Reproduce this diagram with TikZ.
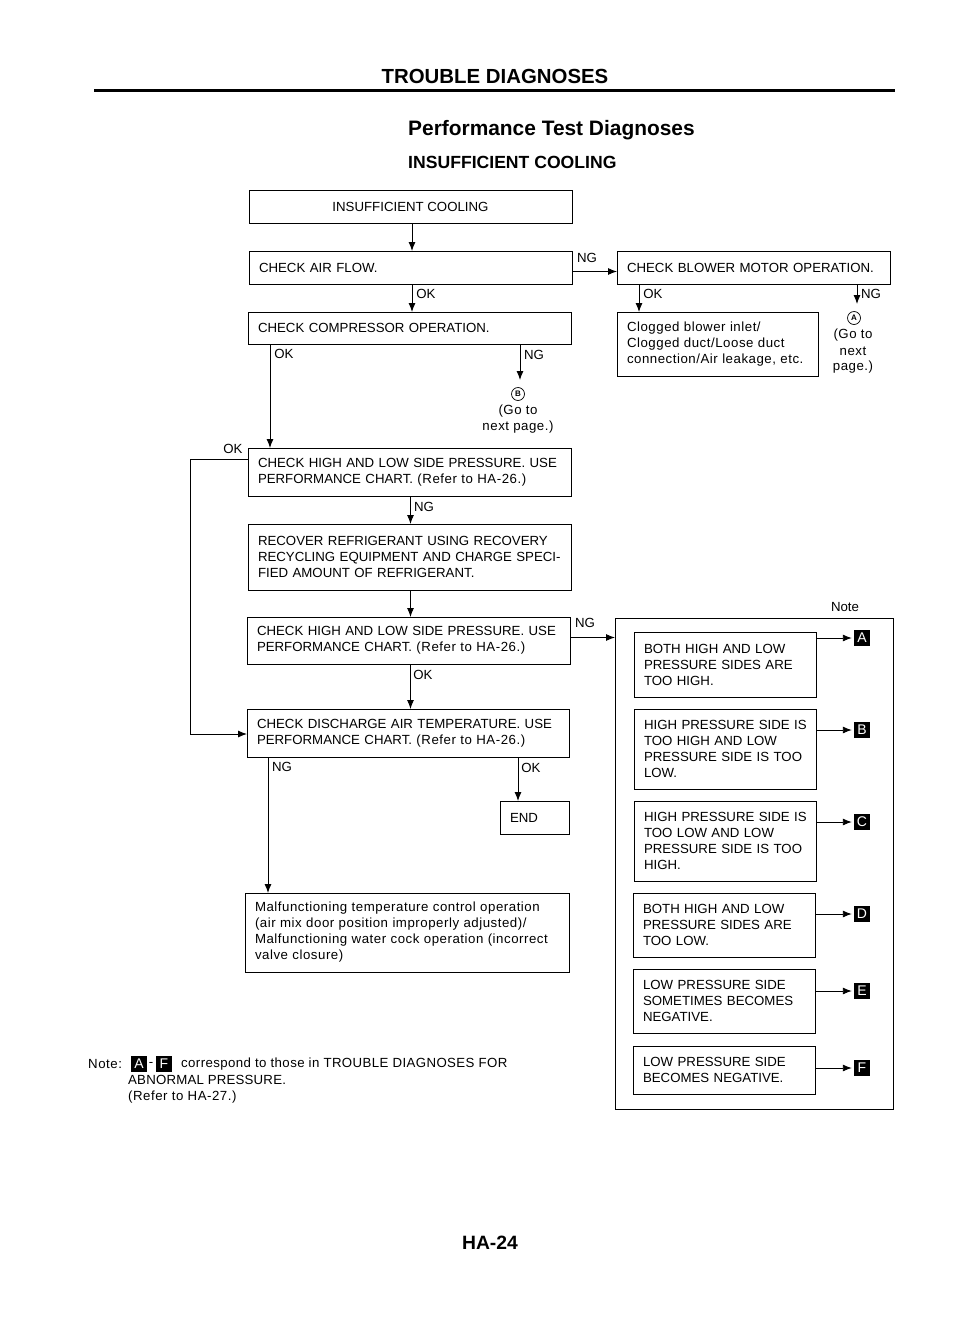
\documentclass[tikz,border=0pt]{standalone}
\usepackage{fontspec}
\setmainfont{Liberation Sans}
\usetikzlibrary{arrows.meta}
\newcommand{\boxfont}{\fontsize{13.25}{16}\selectfont}
\newcommand{\widefont}{\addfontfeature{LetterSpace=4}}
\tikzset{
  frame/.style={draw, line width=0.9pt, anchor=north west, inner ysep=0pt, outer sep=0pt, font=\boxfont},
  box/.style 2 args={frame, align=left, inner xsep=3pt, text width=#1pt-6pt, minimum height=#2pt, execute at begin node={\leftskip=7pt\relax}},
  flow/.style={line width=0.9pt, -{Latex[length=9pt,width=7pt]}},
  wire/.style={line width=0.9pt},
  lab/.style={inner sep=0pt, font=\boxfont},
  tag/.style={fill=black, text=white, inner sep=0pt, minimum size=16pt, font=\fontsize{14}{14}\selectfont},
  ring/.style={draw, circle, line width=0.7pt, inner sep=0pt, minimum size=13pt, font=\fontsize{8}{8}\selectfont\bfseries},
  head/.style={inner sep=0pt, font=\fontsize{#1}{#1}\selectfont\bfseries},
}
\begin{document}
\begin{tikzpicture}[x=1pt,y=-1pt]
\useasboundingbox (0,0) rectangle (960,1325);

\node [head=20.4] (title) at (495,76) {TROUBLE DIAGNOSES};
\node [head=20.9, anchor=west] (perf) at (408,130) {Performance Test Diagnoses};
\node [head=17.6, anchor=west] (sub) at (408,162) {INSUFFICIENT COOLING};
\coordinate (ruleL) at (94,90);
\coordinate (ruleR) at (895,90);
\draw [line width=3pt] (ruleL) -- (ruleR);

\node [frame, minimum width=323pt, minimum height=33pt] (intro) at (249,190) {INSUFFICIENT COOLING};
\node [box={323}{33}] (air) at (249,251) {CHECK AIR FLOW.};
\node [box={323}{32}] (comp) at (248,312) {CHECK COMPRESSOR OPERATION.};
\node [box={323}{48}] (hlpa) at (248,448) {CHECK HIGH AND LOW SIDE PRESSURE. USE\\PERFORMANCE CHART. {\widefont (Refer to HA-26.)}};
\node [box={323}{66}] (recover) at (248,524) {RECOVER REFRIGERANT USING RECOVERY\\RECYCLING EQUIPMENT AND CHARGE SPECI-\\FIED AMOUNT OF REFRIGERANT.};
\node [box={323}{47}] (hlpb) at (247,617) {CHECK HIGH AND LOW SIDE PRESSURE. USE\\PERFORMANCE CHART. {\widefont (Refer to HA-26.)}};
\node [box={322}{48}] (disch) at (247,709) {CHECK DISCHARGE AIR TEMPERATURE. USE\\PERFORMANCE CHART. {\widefont (Refer to HA-26.)}};
\node [box={69}{33}] (end) at (500,801) {END};
\node [box={324}{79}] (malf) at (245,893) {\widefont Malfunctioning temperature control operation\\(air mix door position improperly adjusted)/\\Malfunctioning water cock operation (incorrect\\valve closure)};

\node [box={273}{33}] (blower) at (617,251) {CHECK BLOWER MOTOR OPERATION.};
\node [box={201}{64}] (clog) at (617,312) {\widefont Clogged blower inlet/\\Clogged duct/Loose duct\\connection/Air leakage, etc.};

\node [frame, inner sep=0pt, minimum width=278pt, minimum height=491pt] (note) at (615,618) {};
\node [box={182}{65}] (casea) at (634,632) {BOTH HIGH AND LOW\\PRESSURE SIDES ARE\\TOO HIGH.};
\node [box={182}{80}] (caseb) at (634,709) {HIGH PRESSURE SIDE IS\\TOO HIGH AND LOW\\PRESSURE SIDE IS TOO\\LOW.};
\node [box={182}{80}] (casec) at (634,801) {HIGH PRESSURE SIDE IS\\TOO LOW AND LOW\\PRESSURE SIDE IS TOO\\HIGH.};
\node [box={182}{64}] (cased) at (633,893) {BOTH HIGH AND LOW\\PRESSURE SIDES ARE\\TOO LOW.};
\node [box={182}{64}] (casee) at (633,969) {LOW PRESSURE SIDE\\SOMETIMES BECOMES\\NEGATIVE.};
\node [box={182}{48}] (casef) at (633,1046) {LOW PRESSURE SIDE\\BECOMES NEGATIVE.};

\node [tag] (taga) at (862,638) {A};
\node [tag] (tagb) at (862,730) {B};
\node [tag] (tagc) at (862,822) {C};
\node [tag] (tagd) at (862,914) {D};
\node [tag] (tage) at (862,991) {E};
\node [tag] (tagf) at (862,1068) {F};

\node [ring] (ringb) at (518,394) {B};
\node [lab] (gob) at (518,411) {\widefont (Go to};
\node [lab] (nextb) at (518,427) {\widefont next page.)};
\coordinate (tipb) at (520,380);
\node [ring] (ringa) at (854,318) {A};
\node [lab] (goa) at (853,335) {\widefont (Go to};
\node [lab] (nexta) at (853,351) {\widefont next};
\node [lab] (pagea) at (853,367) {\widefont page.)};
\coordinate (tipa) at (857,304);

\draw [flow] ([xshift=1.5]intro.south) -- ([xshift=1.5]air.north);
\draw [flow] ([xshift=1.5]air.south) -- ([xshift=2.5]comp.north);
\draw [flow] ([xshift=22]comp.south west) -- ([xshift=22]hlpa.north west);
\draw [flow] (comp.south -| tipb) -- (tipb);
\draw [flow] ([xshift=1]hlpa.south) -- ([xshift=1]recover.north);
\draw [flow] ([xshift=1]recover.south) -- ([xshift=2]hlpb.north);
\draw [flow] ([xshift=2]hlpb.south) -- ([xshift=2.5]disch.north);
\draw [flow] ([xshift=21]disch.south west) -- ([xshift=23]malf.north west);
\draw [flow] ([xshift=18]end.north west |- disch.south) -- ([xshift=18]end.north west);
\draw [flow] ([yshift=-4]air.east) -- ([yshift=-4]blower.west);
\draw [flow] ([xshift=22]blower.south west) -- ([xshift=22]clog.north west);
\draw [flow] (blower.south -| tipa) -- (tipa);
\draw [flow] ([yshift=3]hlpb.east) -- ([yshift=3]hlpb.east -| note.west);
\draw [wire] ([yshift=-11]hlpa.north west) -- +(-58,0) coordinate (bendt);
\draw [wire] (bendt) -- ([yshift=-1]bendt |- disch.west) coordinate (bendb);
\draw [flow] (bendb) -- ([yshift=-1]disch.west);

\draw [flow, shorten >=2pt] (taga -| casea.east) -- (taga);
\draw [flow, shorten >=2pt] (tagb -| caseb.east) -- (tagb);
\draw [flow, shorten >=2pt] (tagc -| casec.east) -- (tagc);
\draw [flow, shorten >=2pt] (tagd -| cased.east) -- (tagd);
\draw [flow, shorten >=2pt] (tage -| casee.east) -- (tage);
\draw [flow, shorten >=2pt] (tagf -| casef.east) -- (tagf);

\node [lab] (oka) at (426,294) {OK};
\node [lab] (okb) at (284,354) {OK};
\node [lab] (nga) at (534,355) {NG};
\node [lab] (okc) at (233,449) {OK};
\node [lab] (ngb) at (424,507) {NG};
\node [lab] (okd) at (423,675) {OK};
\node [lab] (ngc) at (282,767) {NG};
\node [lab] (oke) at (531,768) {OK};
\node [lab] (ngd) at (587,258) {NG};
\node [lab] (ngf) at (585,623) {NG};
\node [lab] (okf) at (653,294) {OK};
\node [lab] (nge) at (871,294) {NG};
\node [lab] (notehead) at (845,607) {Note};

\node [lab, anchor=west] (notea) at (88,1064) {\widefont Note:};
\node [tag] (noteA) at (139,1064) {A};
\node [lab] (dash) at (151,1064) {-};
\node [tag] (noteF) at (164,1064) {F};
\node [lab, anchor=west] (noteb) at (181,1064) {\addfontfeature{LetterSpace=3}correspond to those in TROUBLE DIAGNOSES FOR};
\node [lab, anchor=west] (notec) at (128,1080) {\addfontfeature{LetterSpace=1.5}ABNORMAL PRESSURE.};
\node [lab, anchor=west] (noted) at (128,1097) {\widefont (Refer to HA-27.)};

\node [head=19.3] (pageno) at (490,1243) {HA-24};
\end{tikzpicture}
\end{document}
